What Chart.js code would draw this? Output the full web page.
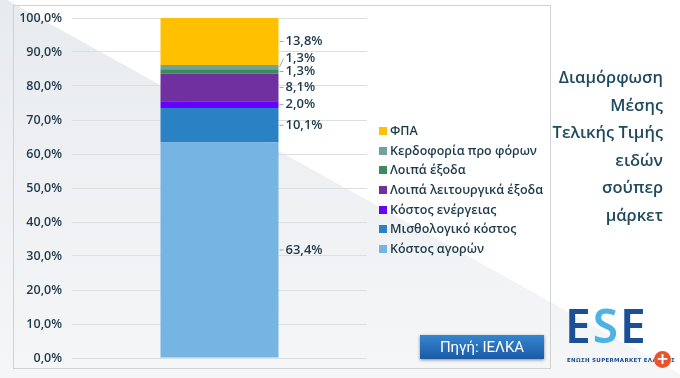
<!DOCTYPE html>
<html>
<head>
<meta charset="utf-8">
<script src="https://cdn.jsdelivr.net/npm/chart.js@4"></script>
<style>
  body { margin: 0; overflow: hidden; background: #fff; }
  #wrap { position: relative; width: 680px; height: 378px; font-family: "Open Sans", "Noto Sans", sans-serif; }
  #c { position: absolute; left: 0; top: 0; }
  #legend { position: absolute; left: 379px; top: 121px; }
  .lg-item { height: 19.7px; line-height: 19.7px; font-size: 12.5px; font-weight: 600; color: #1d3a4b; white-space: nowrap; }
  .lg-box { display: inline-block; width: 8px; height: 8px; margin-right: 3px; vertical-align: 0px; }
  #title { position: absolute; right: 17px; top: 63px; text-align: right; font-size: 16.5px; font-weight: 600; color: #1f4a5e; line-height: 27.6px; }
  #source { position: absolute; left: 420px; top: 335px; width: 124px; height: 24px; line-height: 24px; text-align: center;
    background: linear-gradient(#3585d0, #1b5aa5); color: #fff; font-family: Roboto, sans-serif; font-size: 15px;
    box-shadow: 0 1px 3px rgba(0,0,0,0.45); }
  #logo { position: absolute; left: 565px; top: 300px; font-family: "Noto Sans", sans-serif; font-weight: 600; font-size: 46px; line-height: 50px; color: #1c4f96; letter-spacing: 2px; }
  #logo .s { color: #4bb3e6; }
  #logo-sub { position: absolute; left: 567px; top: 357px; font-family: "DejaVu Sans", sans-serif; font-size: 5.5px; font-weight: bold; color: #1c4f96; letter-spacing: 0.3px; }
  #zoomicon { position: absolute; left: 654px; top: 351px; width: 17px; height: 17px; border-radius: 50%; background: #e8552c;
    color: #fff; font: bold 15px/17px "DejaVu Sans", sans-serif; text-align: center; }
</style>
</head>
<body>
<div id="wrap">
  <canvas id="c" width="680" height="378"></canvas>
  <div id="legend"></div>
  <div id="title">Διαμόρφωση<br>Μέσης<br>Τελικής Τιμής<br>ειδών<br>σούπερ<br>μάρκετ</div>
  <div id="source">Πηγή: ΙΕΛΚΑ</div>
  <div id="logo">E<span class="s">S</span>E</div>
  <div id="logo-sub">ΕΝΩΣΗ SUPERMARKET ΕΛΛΑΔΟΣ</div>
  <div id="zoomicon">+</div>
</div>
<script>
// data, bottom of the stack first
const categories = [''];
const seriesNames = ['Κόστος αγορών', 'Μισθολογικό κόστος', 'Κόστος ενέργειας', 'Λοιπά λειτουργικά έξοδα', 'Λοιπά έξοδα', 'Κερδοφορία προ φόρων', 'ΦΠΑ'];
const seriesValues = [63.4, 10.1, 2.0, 8.1, 1.3, 1.3, 13.8];
const seriesColors = ['#76b4e3', '#2a82c5', '#6600ff', '#7030a0', '#3d8a5a', '#6fa39b', '#ffc000'];
const tickValues = [0, 10, 20, 30, 40, 50, 60, 70, 80, 90, 100];

const fmt = v => v.toFixed(1).replace('.', ',') + '%';

// background: grey slide with a white diagonal, plus the chart frame
const slideBackground = {
  id: 'slideBackground',
  beforeDraw(chart) {
    const {ctx, width, height} = chart;
    ctx.save();
    const g = ctx.createLinearGradient(0, 0, 0, height);
    g.addColorStop(0, '#e8ebee');
    g.addColorStop(1, '#f5f6f8');
    ctx.fillStyle = g;
    ctx.fillRect(0, 0, width, height);
    ctx.fillStyle = '#ffffff';
    ctx.beginPath();
    ctx.moveTo(0, -4);
    ctx.lineTo(width, -4);
    ctx.lineTo(width, 374);
    ctx.closePath();
    ctx.fill();
    ctx.strokeStyle = '#cfd3d8';
    ctx.lineWidth = 1;
    ctx.strokeRect(13.5, 5.5, 537, 363);
    ctx.restore();
  }
};

// value labels to the right of the bar, with small leader lines
const segmentLabels = {
  id: 'segmentLabels',
  afterDatasetsDraw(chart) {
    const {ctx} = chart;
    const items = chart.data.datasets.map((ds, i) => {
      const bar = chart.getDatasetMeta(i).data[0];
      return {text: fmt(ds.data[0]), x: bar.x + bar.width / 2, y0: (bar.y + bar.base) / 2};
    });
    let prev = Infinity;
    items.forEach(it => { it.y = Math.min(it.y0, prev - 13); prev = it.y; });
    ctx.save();
    ctx.font = '600 13px "Open Sans"';
    ctx.textBaseline = 'middle';
    items.forEach(it => {
      ctx.strokeStyle = '#a6a6a6';
      ctx.lineWidth = 1;
      ctx.beginPath();
      ctx.moveTo(it.x + 1, it.y0);
      ctx.lineTo(it.x + 5, it.y);
      ctx.stroke();
      ctx.fillStyle = '#1d3a4b';
      ctx.fillText(it.text, it.x + 7, it.y);
    });
    ctx.restore();
  }
};

// html legend, top item = top of the stack
const htmlLegend = {
  id: 'htmlLegend',
  afterUpdate(chart) {
    const box = document.getElementById('legend');
    box.innerHTML = '';
    const items = chart.options.plugins.legend.labels.generateLabels(chart).reverse();
    items.forEach(item => {
      const row = document.createElement('div');
      row.className = 'lg-item';
      const sw = document.createElement('span');
      sw.className = 'lg-box';
      sw.style.background = item.fillStyle;
      row.appendChild(sw);
      row.appendChild(document.createTextNode(item.text));
      box.appendChild(row);
    });
  }
};

const data = {
  labels: categories,
  datasets: seriesNames.map((name, i) => ({
    label: name,
    data: [seriesValues[i]],
    backgroundColor: seriesColors[i],
    borderWidth: 0,
    barPercentage: 0.4,
    categoryPercentage: 1.0
  }))
};

const config = {
  type: 'bar',
  data,
  options: {
    responsive: false,
    animation: false,
    layout: { padding: { top: 18, bottom: 20, left: 0, right: 313 } },
    scales: {
      x: { stacked: true, display: false },
      y: {
        stacked: true,
        min: 0,
        max: 100,
        afterBuildTicks(axis) { axis.ticks = tickValues.map(v => ({value: v})); },
        afterFit(axis) { axis.width = 72; },
        ticks: {
          callback: v => fmt(v),
          color: '#1d3a4b',
          font: { family: '"Open Sans"', size: 12.5, weight: '600' },
          padding: 10
        },
        grid: { color: '#dcdfe2', drawTicks: false },
        border: { display: false }
      }
    },
    plugins: {
      legend: { display: false },
      tooltip: { enabled: false }
    }
  },
  plugins: [slideBackground, segmentLabels, htmlLegend]
};

const myChart = new Chart(document.getElementById('c'), config);
</script>
</body>
</html>
